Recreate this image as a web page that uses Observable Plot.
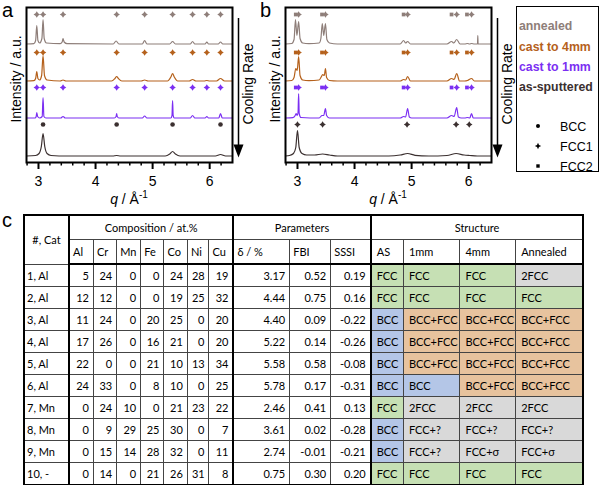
<!DOCTYPE html>
<html>
<head>
<meta charset="utf-8">
<script src="https://cdn.jsdelivr.net/npm/d3@7"></script>
<script src="https://cdn.jsdelivr.net/npm/@observablehq/plot@0.6"></script>
<style>
  html, body { margin: 0; padding: 0; background: #fff; }
  #root { position: relative; width: 600px; height: 485px; overflow: hidden; font-family: "Liberation Sans", Arial, sans-serif; }
  .abs { position: absolute; }
  .letter { font-size: 20px; line-height: 1; }
  #legend { left: 516px; top: 6px; width: 83px; height: 166px; border: 1px solid #000; box-sizing: border-box; }
  #legend .ser { position: absolute; left: 2px; font-weight: bold; font-size: 12.3px; line-height: 1; white-space: nowrap; }
  #legend .ph { position: absolute; left: 43px; font-size: 12.5px; line-height: 1; }
  #legend svg { position: absolute; left: 16px; }
  #tbl { position: absolute; left: 23px; top: 214px; border-collapse: collapse; table-layout: fixed; width: 559px;
         border: 2px solid #000; font-family: Lato, "Open Sans", sans-serif; font-size: 11px; color: #000; }
  #tbl td { border: 1px solid #444; padding: 0 4px; height: 21px; white-space: nowrap; overflow: hidden; vertical-align: middle; }
  #tbl tr.h td { height: 23px; }
  #tbl td.c { text-align: center; }
  #tbl td.r { text-align: right; }
  #tbl td.l0 { padding-left: 2px; }
  #tbl td.hl { padding-left: 3px; }
  #tbl td.s { padding-left: 5px; }
  #tbl td.tr { border-right: 2px solid #000; }
  #tbl tr.h2 td { border-bottom: 2px solid #000; }
</style>
</head>
<body>
<div id="root">
  <div id="pa" class="abs" style="left:0;top:0"></div>
  <div id="pb" class="abs" style="left:259px;top:0"></div>
  <div class="abs letter" style="left:2px;top:0px">a</div>
  <div class="abs letter" style="left:260px;top:0px">b</div>
  <div class="abs letter" style="left:2px;top:210px">c</div>
  <div id="legend" class="abs"></div>
</div>
<script>
// ---------------- XRD data (q in 1/Å, intensity in arbitrary units above each trace's baseline) ----------------
const seriesNames = ["annealed", "cast to 4mm", "cast to 1mm", "as-sputtered"];
const seriesColors = ["#8e7e79", "#b5611c", "#7b2ff2", "#3b3030"];
const phaseNames = ["BCC", "FCC1", "FCC2"];

const majorTicks = [3, 4, 5, 6];
const minorTicks = [2.8, 3.2, 3.4, 3.6, 3.8, 4.2, 4.4, 4.6, 4.8, 5.2, 5.4, 5.6, 5.8, 6.2];

// panel a
const aAnnealed = [[2.79,0.5],[2.92,0.8],[2.95,4],[2.97,19],[2.99,4],[3.02,1.5],[3.06,6],[3.08,25],[3.10,6],[3.14,1.5],[3.38,0.8],[3.415,2.5],[3.43,6],[3.45,2.5],[3.50,0.8],[4.31,0.5],[4.36,3.5],[4.41,0.5],[4.82,0.5],[4.86,4],[4.90,0.5],[5.30,0.5],[5.35,3],[5.40,0.5],[5.66,0.5],[5.70,3],[5.74,0.5],[5.92,0.5],[5.95,2.5],[5.98,0.5],[6.15,0.5],[6.19,2.5],[6.23,0.5],[6.40,0.5]];
const aCast4 = [[2.79,0.5],[2.92,0.8],[2.95,3],[2.97,10],[2.99,3],[3.02,1.5],[3.055,6],[3.08,26],[3.105,6],[3.15,1.5],[3.38,0.5],[3.43,1.5],[3.48,0.5],[4.28,0.5],[4.34,3],[4.37,5],[4.40,3],[4.46,0.5],[4.80,0.5],[4.86,1.5],[4.92,0.5],[5.26,0.5],[5.32,4.5],[5.35,8],[5.38,4.5],[5.44,0.5],[5.64,0.5],[5.70,2],[5.76,0.5],[5.90,0.5],[5.95,1],[6.00,0.5],[6.12,0.5],[6.19,3],[6.26,0.5],[6.40,0.5]];
const aCast1 = [[2.79,0.5],[2.94,0.5],[2.96,2],[2.97,6],[2.985,2],[3.02,0.5],[3.065,2],[3.08,21],[3.095,2],[3.13,0.5],[3.39,0.5],[3.43,2],[3.47,0.5],[4.33,0.5],[4.36,2],[4.37,5],[4.38,2],[4.41,0.5],[4.82,0.5],[4.86,2.5],[4.90,0.5],[5.32,0.5],[5.34,3],[5.35,18],[5.36,3],[5.38,0.5],[5.66,0.5],[5.70,3],[5.74,0.5],[5.92,0.5],[5.95,2],[5.98,0.5],[6.16,0.5],[6.19,5],[6.22,0.5],[6.40,0.5]];
const aSputtered = [[2.79,0.5],[2.95,1],[3.01,3],[3.05,10],[3.08,23],[3.11,10],[3.15,3],[3.22,1],[3.50,0.5],[4.30,0.5],[4.37,1],[4.44,0.5],[5.22,0.5],[5.30,2.5],[5.35,5],[5.40,2.5],[5.48,0.5],[6.10,0.5],[6.19,2],[6.28,0.5],[6.40,0.5]];
const aCastPeaks = [2.97, 3.08, 3.43, 4.37, 4.86, 5.35, 5.70, 5.95, 6.19];
const aBccPeaks = [3.08, 4.37, 5.35, 6.19];

// panel b
const bAnnealed = [[2.79,0.5],[2.90,1],[2.94,5],[2.965,25],[2.99,9],[3.02,23],[3.045,6],[3.09,1.5],[3.20,0.8],[3.38,1.5],[3.41,6],[3.435,21],[3.46,9],[3.49,21],[3.515,5],[3.56,1.5],[3.70,0.5],[4.80,0.5],[4.86,4],[4.895,1.5],[4.93,3],[4.98,0.5],[5.62,0.5],[5.70,3],[5.74,1.5],[5.79,5],[5.85,0.5],[5.93,0.5],[5.98,1],[6.015,0.5],[6.05,1],[6.10,0.5],[6.155,0.5],[6.16,9],[6.165,0.5],[6.40,0.5]];
const bCast4 = [[2.79,0.5],[2.90,1],[2.94,4],[2.97,13],[2.995,11],[3.02,25],[3.045,6],[3.09,1.5],[3.20,0.8],[3.38,1.5],[3.42,5],[3.44,7],[3.47,6],[3.49,13],[3.51,4],[3.56,1],[3.70,0.5],[4.80,0.5],[4.86,2],[4.895,1.5],[4.93,5],[4.98,0.5],[5.62,0.5],[5.70,3],[5.745,2],[5.79,8],[5.84,0.5],[5.93,0.5],[5.98,1],[6.05,3],[6.10,0.5],[6.40,0.5]];
const bCast1 = [[2.79,0.5],[2.92,0.8],[2.96,3],[2.975,5],[2.995,3],[3.01,6],[3.02,25],[3.03,5],[3.06,1],[3.38,0.5],[3.43,3],[3.46,3],[3.49,10],[3.51,3],[3.56,0.5],[4.80,0.5],[4.86,2],[4.895,1.5],[4.93,10],[4.96,1.5],[5.00,0.5],[5.62,0.5],[5.70,3],[5.745,2],[5.79,11],[5.82,1.5],[5.87,0.5],[5.93,0.5],[5.98,1],[6.02,0.5],[6.05,5],[6.08,0.5],[6.40,0.5]];
const bSputtered = [[2.79,0.5],[2.86,1],[2.93,3],[2.97,9],[3.00,26],[3.03,9],[3.08,3],[3.16,1.5],[3.30,1.5],[3.44,2.5],[3.56,1.5],[3.70,0.5],[4.60,0.5],[4.80,1.5],[4.93,3],[5.06,1.2],[5.30,0.5],[5.62,1],[5.78,3],[5.92,1.5],[6.02,1],[6.15,0.5],[6.40,0.5]];
const bFcc2Peaks = [2.97, 3.43, 4.86, 5.70, 5.97];
const bFcc1Peaks = [3.02, 3.49, 4.93, 5.79, 6.05];
const bSputterPeaks = [3.00, 3.44, 4.92, 5.78, 6.01];

// ---------------- table data ----------------
const sampleLabels = ["1, Al","2, Al","3, Al","4, Al","5, Al","6, Al","7, Mn","8, Mn","9, Mn","10, -"];
const elements = ["Al","Cr","Mn","Fe","Co","Ni","Cu"];
const compAl = [5,12,11,17,22,24,0,0,0,0];
const compCr = [24,12,24,26,0,33,24,9,15,14];
const compMn = [0,0,0,0,0,0,10,29,14,0];
const compFe = [0,0,20,16,21,8,0,25,28,21];
const compCo = [24,19,25,21,10,10,21,30,32,26];
const compNi = [28,25,0,0,13,0,23,0,0,31];
const compCu = [19,32,20,20,34,25,22,7,11,8];
const paramNames = ["δ / %","FBI","SSSI"];
const delta = ["3.17","4.44","4.40","5.22","5.58","5.78","2.46","3.61","2.74","0.75"];
const fbi = ["0.52","0.75","0.09","0.14","0.58","0.17","0.41","0.02","-0.01","0.30"];
const sssi = ["0.19","0.16","-0.22","-0.26","-0.08","-0.31","0.13","-0.28","-0.21","0.20"];
const structNames = ["AS","1mm","4mm","Annealed"];
const structAS = ["FCC","FCC","BCC","BCC","BCC","BCC","FCC","BCC","BCC","FCC"];
const struct1mm = ["FCC","FCC","BCC+FCC","BCC+FCC","BCC+FCC","BCC","2FCC","FCC+?","FCC+?","FCC"];
const struct4mm = ["FCC","FCC","BCC+FCC","BCC+FCC","BCC+FCC","BCC+FCC","2FCC","FCC+?","FCC+σ","FCC"];
const structAnn = ["2FCC","FCC","BCC+FCC","BCC+FCC","BCC+FCC","BCC+FCC","2FCC","FCC+?","FCC+σ","FCC"];

// ---------------- layout / style constants ----------------
const qDomain = [2.79, 6.40];
const traceBase = [118, 81, 44, 6];     // vertical stacking offsets
const markerRow = [148, 110, 75, 38];   // marker row heights
const structFill = {"FCC": "#c6e0b4", "BCC": "#b4c6e7", "BCC+FCC": "#e7c39e"};
const otherFill = "#d9d9d9";
const colWidths = [45, 24.4, 23.3, 24, 23.3, 23.4, 21.6, 24.4, 56.3, 41, 40, 32.7, 56.6, 55.7, 67.7];

const star4 = { draw(ctx, size) { const r = Math.sqrt(size / Math.PI) * 1.35, k = r * 0.4;
  ctx.moveTo(0, -r); ctx.lineTo(k, -k); ctx.lineTo(r, 0); ctx.lineTo(k, k); ctx.lineTo(0, r);
  ctx.lineTo(-k, k); ctx.lineTo(-r, 0); ctx.lineTo(-k, -k); ctx.closePath(); } };
const arrowHead = { draw(ctx) { ctx.moveTo(-5, -13); ctx.lineTo(5, -13); ctx.lineTo(0, 0); ctx.closePath(); } };

function panel(traces, markerSets) {
  const rows = [];
  traces.forEach((pts, i) => pts.forEach(([q, I]) => rows.push({q, y: traceBase[i] + I, s: seriesNames[i]})));
  const fig = Plot.plot({
    width: 258, height: 210,
    marginLeft: 26, marginRight: 26, marginTop: 7, marginBottom: 48,
    style: {fontFamily: "'Liberation Sans', Arial, sans-serif", fontSize: "14px", color: "#000", background: "transparent", overflow: "visible"},
    x: {domain: qDomain, axis: null},
    y: {domain: [0, 155], axis: null},
    color: {domain: seriesNames, range: seriesColors},
    marks: [
      Plot.line(rows, {x: "q", y: "y", z: "s", stroke: "s", strokeWidth: 1.2, curve: "monotone-x"}),
      ...markerSets.map(m => Plot.dot(m.data, {x: "q", y: "y", fill: "s", symbol: m.symbol, r: m.r})),
      Plot.frame({strokeWidth: 2}),
      Plot.axisX({ticks: majorTicks, tickSize: 7, tickPadding: 7, strokeWidth: 2, fontSize: 14, tickFormat: d => String(d), label: null}),
      Plot.axisX({ticks: minorTicks, tickSize: 3.5, strokeWidth: 1.5, tickFormat: () => "", label: null}),
      Plot.text(["Intensity / a.u."], {frameAnchor: "left", dx: -10, dy: -6, rotate: -90, textAnchor: "middle", lineAnchor: "middle", fontSize: 14}),
      Plot.text(["Cooling Rate"], {frameAnchor: "right", dx: 16, dy: -1, rotate: -90, textAnchor: "middle", lineAnchor: "middle", fontSize: 14}),
      Plot.ruleX([qDomain[1]], {y1: 144, y2: 17, dx: 6, strokeWidth: 1.5}),
      Plot.dot([qDomain[1]], {x: d => d, y: 5, dx: 6, symbol: arrowHead, fill: "#000", r: 3})
    ]
  });
  const xs = fig.scale("x").range;
  const t = d3.select(fig).append("text")
    .attr("x", (xs[0] + xs[1]) / 2).attr("y", 204).attr("text-anchor", "middle").attr("font-size", 14).attr("fill", "#000");
  t.append("tspan").attr("font-style", "italic").text("q");
  t.append("tspan").text(" / Å");
  t.append("tspan").attr("font-size", 10).attr("dy", -6).text("-1");
  return fig;
}

const rowsOf = (peaks, i) => peaks.map(q => ({q, y: markerRow[i], s: seriesNames[i]}));

document.getElementById("pa").append(panel(
  [aAnnealed, aCast4, aCast1, aSputtered],
  [
    {data: [0, 1, 2].flatMap(i => rowsOf(aCastPeaks, i)), symbol: star4, r: 2.4},
    {data: rowsOf(aBccPeaks, 3), symbol: "circle", r: 2.3}
  ]
));
document.getElementById("pb").append(panel(
  [bAnnealed, bCast4, bCast1, bSputtered],
  [
    {data: [0, 1, 2].flatMap(i => rowsOf(bFcc2Peaks, i)), symbol: "square", r: 2.1},
    {data: [0, 1, 2].flatMap(i => rowsOf(bFcc1Peaks, i)), symbol: star4, r: 2.4},
    {data: rowsOf(bSputterPeaks, 3), symbol: star4, r: 2.4}
  ]
));

// ---------------- legend ----------------
const legend = document.getElementById("legend");
const serTops = [13, 34, 54, 74];
seriesNames.forEach((n, i) => {
  const d = document.createElement("div");
  d.className = "ser"; d.style.top = serTops[i] + "px"; d.style.color = seriesColors[i]; d.textContent = n;
  legend.append(d);
});
const phTops = [114, 134, 154];
const phSym = [
  '<circle cx="5" cy="5" r="2" fill="#000"/>',
  '<path d="M5,1.8L6,4L8.2,5L6,6L5,8.2L4,6L1.8,5L4,4Z" fill="#000"/>',
  '<rect x="3.3" y="3.3" width="3.4" height="3.4" fill="#000"/>'
];
phaseNames.forEach((n, i) => {
  const s = document.createElementNS("http://www.w3.org/2000/svg", "svg");
  s.setAttribute("width", 10); s.setAttribute("height", 10);
  s.style.top = (phTops[i] + 0) + "px"; s.innerHTML = phSym[i];
  legend.append(s);
  const d = document.createElement("div");
  d.className = "ph"; d.style.top = phTops[i] + "px"; d.textContent = n;
  legend.append(d);
});

// ---------------- table ----------------
const comp = [compAl, compCr, compMn, compFe, compCo, compNi, compCu];
const params = [delta, fbi, sssi];
const structs = [structAS, struct1mm, struct4mm, structAnn];
let html = '<colgroup>' + colWidths.map(w => `<col style="width:${w}px">`).join("") + '</colgroup>';
html += '<tr class="h"><td rowspan="2" class="c tr">#, Cat</td><td colspan="7" class="c tr">Composition / at.%</td>' +
        '<td colspan="3" class="c tr">Parameters</td><td colspan="4" class="c">Structure</td></tr>';
html += '<tr class="h h2">' + elements.map((e, j) => `<td class="hl${j === 6 ? " tr" : ""}">${e}</td>`).join("") +
        paramNames.map((p, j) => `<td class="hl${j === 2 ? " tr" : ""}">${p}</td>`).join("") +
        structNames.map(s => `<td class="s">${s}</td>`).join("") + '</tr>';
sampleLabels.forEach((lab, i) => {
  html += `<tr><td class="l0 tr">${lab}</td>` +
    comp.map((c, j) => `<td class="r${j === 6 ? " tr" : ""}">${c[i]}</td>`).join("") +
    params.map((p, j) => `<td class="r${j === 2 ? " tr" : ""}">${p[i]}</td>`).join("") +
    structs.map(s => `<td class="s" style="background:${structFill[s[i]] || otherFill}">${s[i]}</td>`).join("") + '</tr>';
});
const tbl = document.createElement("table");
tbl.id = "tbl"; tbl.innerHTML = html;
document.getElementById("root").append(tbl);
</script>
</body>
</html>
